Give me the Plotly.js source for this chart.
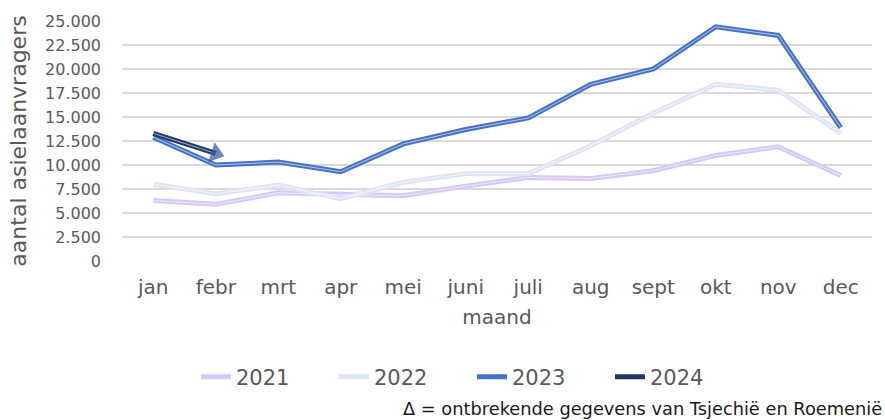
<!DOCTYPE html>
<html>
<head>
<meta charset="utf-8">
<script src="https://cdn.plot.ly/plotly-3.0.1.min.js"></script>
<style>
  html, body { margin: 0; padding: 0; background: #fff; }
  #chart { width: 885px; height: 420px; }
</style>
</head>
<body>
<div id="chart"></div>
<script>
// maanden en asielaanvragen per jaar
const maanden = ['jan', 'febr', 'mrt', 'apr', 'mei', 'juni', 'juli', 'aug', 'sept', 'okt', 'nov', 'dec'];
const jaren = ['2021', '2022', '2023', '2024'];
const waarden2021 = [6300, 5900, 7100, 6900, 6800, 7800, 8700, 8600, 9400, 11000, 11900, 8900];
const waarden2022 = [8000, 7000, 7900, 6500, 8200, 9100, 9100, 12000, 15400, 18400, 17800, 13300];
const waarden2023 = [12900, 10000, 10300, 9300, 12200, 13700, 14900, 18400, 20000, 24400, 23500, 13900];
const waarden2024 = [13300, 11200];
const kleuren = ['#d6c7fb', '#dce5f4', '#4472c4', '#203864'];

const grijs = '#595959';
const font = 'DejaVu Sans, Verdana, sans-serif';

const reeksen = [waarden2021, waarden2022, waarden2023, waarden2024];
const data = [];

// dikke lijn per jaar
reeksen.forEach((y, i) => {
    data.push({
        x: maanden.slice(0, y.length),
        y: y,
        type: 'scatter',
        mode: 'lines',
        name: jaren[i],
        line: { color: kleuren[i], width: 5 },
        hoverinfo: 'x+y+name'
    });
});

// dunne witte binnenlijn (dubbele lijn zoals in Excel)
reeksen.forEach((y, i) => {
    data.push({
        x: maanden.slice(0, y.length),
        y: y,
        type: 'scatter',
        mode: 'lines',
        showlegend: false,
        hoverinfo: 'skip',
        line: { color: 'rgba(255,255,255,0.75)', width: 0.8 }
    });
});

// pijlpunt aan het eind van 2024
data.push({
    x: maanden.slice(0, waarden2024.length),
    y: waarden2024,
    type: 'scatter',
    mode: 'markers',
    showlegend: false,
    hoverinfo: 'skip',
    marker: {
        symbol: 'triangle-up',
        size: [0, 18],
        angleref: 'previous',
        color: '#2f5597',
        line: { width: 0 }
    }
});

const layout = {
    width: 885,
    height: 420,
    margin: { l: 122, r: 13, t: 21, b: 159 },
    paper_bgcolor: '#fff',
    plot_bgcolor: '#fff',
    separators: ',.',
    font: { family: font, color: grijs, size: 16 },
    xaxis: {
        type: 'category',
        range: [-0.5, 11.5],
        showgrid: false,
        zeroline: false,
        showline: false,
        ticks: '',
        ticklabelstandoff: 12,
        tickfont: { size: 20, color: grijs },
        title: { text: 'maand', font: { size: 20, color: grijs }, standoff: 11 }
    },
    yaxis: {
        range: [0, 25000],
        dtick: 2500,
        tickformat: ',d',
        showgrid: true,
        gridcolor: '#d9d9d9',
        gridwidth: 1.5,
        zeroline: false,
        showline: false,
        ticks: '',
        ticklabelstandoff: 20,
        tickfont: { size: 16, color: grijs },
        title: { text: 'aantal asielaanvragers', font: { size: 22, color: grijs }, standoff: 12 }
    },
    legend: {
        orientation: 'h',
        xref: 'container',
        yref: 'container',
        x: 196 / 885,
        y: 1 - 377 / 420,
        xanchor: 'left',
        yanchor: 'middle',
        font: { size: 21, color: grijs },
        entrywidth: 93,
        entrywidthmode: 'pixels',
        traceorder: 'normal'
    },
    annotations: [{
        text: 'Δ = ontbrekende gegevens van Tsjechië en Roemenië',
        xref: 'paper',
        yref: 'paper',
        x: (401 - 122) / 750,
        y: -(408 - 261) / 240,
        xanchor: 'left',
        yanchor: 'middle',
        showarrow: false,
        font: { size: 17.8, color: '#1a1a1a', family: font }
    }]
};

Plotly.newPlot('chart', data, layout, { displayModeBar: false, staticPlot: true });
</script>
</body>
</html>
